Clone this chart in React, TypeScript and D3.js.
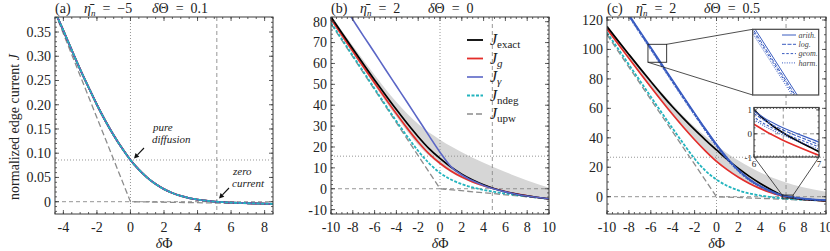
import React from "react";
import * as d3 from "d3";

const FONT = "Liberation Serif, Times New Roman, Times, serif";
const FRAME = "#3a3a3a";
const RED = "#e42d2a";
const BLUE_B = "#5b66c6";
const BLUE_C = "#3a5cc0";
const CYAN = "#22b4be";
const GREY = "#8c8c8c";
const BAND = "#d6d6d6";

// panel (a): eta_n = -5, dTheta = 0.1 (all approximations coincide)
const aPhi = [-4.5, -4, -3.5, -3, -2.5, -2, -1.5, -1, -0.5, 0, 0.5, 1, 1.5, 2, 2.5, 3, 3.5, 4, 4.5, 5, 5.5, 6, 7, 8, 8.5];
const aJ = [0.392, 0.353, 0.3125, 0.273, 0.236, 0.2, 0.167, 0.137, 0.11, 0.086, 0.0661, 0.0496, 0.0363, 0.0259, 0.0179, 0.0119, 0.0075, 0.0043, 0.002, 0.0003, -0.001, -0.0019, -0.0032, -0.004, -0.0044];
const aUpwPhi = [-4.5, 0, 8.5];
const aUpwJ = [0.39, 0, -0.0045];
const aRefX = [0, 5.15]; // pure diffusion (dotted), zero current (dashed)
const aRefY = [0.086, 0];

// panel (b): eta_n = 2, dTheta = 0
const bPhi = [-10, -9, -8, -7, -6, -5, -4, -3, -2, -1, 0, 1, 2, 3, 4, 5, 6, 7, 8, 9, 10];
const bExact = [82.3, 74.6, 67.0, 59.5, 52.1, 44.9, 37.9, 31.2, 24.9, 19.2, 14.5, 10.4, 7.0, 4.2, 1.9, 0.0, -1.45, -2.55, -3.45, -4.2, -4.85];
const bG = [81.3, 73.5, 65.8, 58.2, 50.6, 43.2, 35.9, 28.9, 22.4, 16.7, 12.2, 8.5, 5.6, 3.3, 1.5, 0.0, -1.35, -2.5, -3.4, -4.2, -4.85];
const bGamma = [97.0, 89.0, 81.0, 73.0, 65.1, 57.1, 49.2, 41.3, 33.3, 25.3, 17.5, 10.6, 6.6, 3.8, 1.6, -0.1, -1.5, -2.6, -3.5, -4.2, -4.8];
const bNdeg = [79.5, 71.6, 63.7, 55.8, 47.9, 40.1, 32.4, 25.0, 18.1, 12.2, 7.6, 4.4, 2.2, 0.6, -0.6, -1.5, -2.3, -3.0, -3.7, -4.3, -4.9];
const bUpwPhi = [-10, 0, 10];
const bUpwJ = [79, 0, -4.8];
const bBandPhi = [-10, -8, -6, -4, -2, 0, 2, 4, 6, 8, 10];
const bBandHi = [83, 68.5, 54.5, 41.5, 31, 23.5, 17.5, 12.5, 8, 4, 0.5];
const bBandLo = [80.5, 64.8, 49.5, 34.5, 21, 11.5, 5, 1, -1.6, -3.5, -5.2];
const bRefX = [0, 4.8];
const bRefY = [15.6, 0];

// panel (c): eta_n = 2, dTheta = 0.5
const cPhi = [-10, -9, -8, -7, -6, -5, -4, -3, -2, -1, 0, 1, 2, 3, 4, 5, 6, 7, 8, 9, 10];
const cExact = [115.5, 106, 96.6, 87.3, 78.2, 69.3, 60.9, 53.0, 45.5, 38.5, 31.8, 25.2, 19.2, 13.8, 9.0, 4.8, 1.0, -0.75, -1.8, -2.4, -2.85];
const cG = [113.9, 103.9, 94.0, 84.2, 74.5, 65.0, 55.8, 47.0, 38.7, 31.0, 24.0, 18.2, 13.2, 9.0, 5.5, 2.7, 0.4, -0.9, -1.8, -2.4, -2.9];
const cNdeg = [111.5, 100.6, 89.7, 78.8, 67.9, 57.0, 46.3, 35.8, 25.8, 17.6, 11.6, 7.3, 4.3, 2.2, 0.8, -0.3, -1.1, -1.7, -2.1, -2.4, -2.7];
const cUpwPhi = [-10, 0, 10];
const cUpwJ = [110, 0, -2.8];
const cGammaPhi = [-9, -8, -7, -6, -5, -4, -3, -2, -1, 0, 1, 2, 3, 4, 5, 6, 7, 8, 9, 10];
const cGammaArith = [134.8, 123.7, 112.5, 101.3, 90.1, 78.9, 67.8, 56.8, 46.0, 35.6, 26.2, 18.3, 12.0, 7.3, 3.7, 0.95, -0.35, -1.3, -1.9, -2.3];
const cGammaLog = [134.2, 123.1, 111.9, 100.7, 89.5, 78.3, 67.2, 56.2, 45.5, 35.1, 25.8, 17.9, 11.7, 7.05, 3.5, 0.85, -0.45, -1.4, -2.0, -2.4];
const cGammaGeom = [133.8, 122.7, 111.5, 100.3, 89.1, 77.9, 66.8, 55.9, 45.1, 34.7, 25.4, 17.6, 11.4, 6.8, 3.3, 0.7, -0.55, -1.5, -2.1, -2.5];
const cGammaHarm = [133.3, 122.2, 111.0, 99.8, 88.6, 77.4, 66.3, 55.4, 44.7, 34.3, 25.0, 17.3, 11.1, 6.6, 3.1, 0.6, -0.65, -1.6, -2.2, -2.6];
const cBandPhi = [-10, -8, -6, -4, -2, 0, 2, 4, 6, 8, 10];
const cBandHi = [116.5, 97.5, 79.5, 62.5, 47.5, 35, 24.5, 16.5, 10.5, 6.3, 3.4];
const cBandLo = [113.5, 93.5, 74, 55.3, 38.5, 23.5, 12.8, 5.2, 0.2, -1.9, -3.0];
const cRefX = [0, 6.35];
const cRefY = [26.8, 0];
const cZoom1Phi = [-6.26, -4.55];
const cZoom1J = [91.3, 103.5];
const cZoom2Phi = [6, 7];
const cZoom2J = [-0.97, 1.1];
const cZoom2XTicks = [6, 7];
const cZoom2YTicks = [-1, 0, 1];

const legendLabels = [
  { main: "J", sub: "exact", subItalic: false },
  { main: "J", sub: "g", subItalic: true },
  { main: "J", sub: "γ", subItalic: true },
  { main: "J", sub: "ndeg", subItalic: false },
  { main: "J", sub: "upw", subItalic: false },
];
const gammaLabels = ["arith.", "log.", "geom.", "harm."];

type Scale = d3.ScaleLinear<number, number>;
type Box = { l: number; r: number; t: number; b: number };

const serif = { fontFamily: FONT };

function path(x: Scale, y: Scale, xs: number[], ys: number[], curve: d3.CurveFactory = d3.curveMonotoneX) {
  return d3.line<number>().x((_, i) => x(xs[i])).y((d) => y(d)).curve(curve)(ys) || "";
}

function Curve(props: { x: Scale; y: Scale; xs: number[]; ys: number[]; color: string; w?: number; dash?: string; linear?: boolean }) {
  const { x, y, xs, ys, color, w = 1.6, dash, linear } = props;
  return (
    <path
      d={path(x, y, xs, ys, linear ? d3.curveLinear : d3.curveMonotoneX)}
      fill="none"
      stroke={color}
      strokeWidth={w}
      strokeDasharray={dash}
    />
  );
}

function minorRange(d: number[], step: number) {
  const start = Math.ceil(d[0] / step - 1e-6) * step;
  return d3.range(start, d[1] + 1e-9, step);
}

function FrameTicks(props: { x: Scale; y: Scale; box: Box; xMajor: number[]; xMinor: number; yMajor: number[]; yMinor: number; maj?: number; min?: number }) {
  const { x, y, box, xMajor, xMinor, yMajor, yMinor, maj = 4, min = 2 } = props;
  const xm = minorRange(x.domain(), xMinor);
  const ym = minorRange(y.domain(), yMinor);
  const segs: string[] = [];
  xm.forEach((v) => {
    const px = x(v);
    segs.push(`M${px},${box.b}v${-min}M${px},${box.t}v${min}`);
  });
  xMajor.forEach((v) => {
    const px = x(v);
    segs.push(`M${px},${box.b}v${-maj}M${px},${box.t}v${maj}`);
  });
  ym.forEach((v) => {
    const py = y(v);
    segs.push(`M${box.l},${py}h${min}M${box.r},${py}h${-min}`);
  });
  yMajor.forEach((v) => {
    const py = y(v);
    segs.push(`M${box.l},${py}h${maj}M${box.r},${py}h${-maj}`);
  });
  return <path d={segs.join("")} stroke={FRAME} strokeWidth={0.8} fill="none" />;
}

type PanelProps = {
  id: string;
  box: Box;
  xd: number[];
  yd: number[];
  xTicks: number[];
  xMinor: number;
  yTicks: number[];
  yMinor: number;
  yFmt: (v: number) => string;
  refX: number[];
  refY: number[];
  title: [string, string, string];
  back?: (x: Scale, y: Scale) => React.ReactNode;
  front?: (x: Scale, y: Scale) => React.ReactNode;
};

function Panel(p: PanelProps) {
  const { box } = p;
  const x = d3.scaleLinear().domain(p.xd).range([box.l, box.r]);
  const y = d3.scaleLinear().domain(p.yd).range([box.b, box.t]);
  const dashed = "4,3";
  const dotted = "1,2";
  return (
    <g>
      <defs>
        <clipPath id={p.id}>
          <rect x={box.l} y={box.t} width={box.r - box.l} height={box.b - box.t} />
        </clipPath>
      </defs>
      <g clipPath={`url(#${p.id})`}>
        {p.back && p.back(x, y)}
        <line x1={x(p.refX[0])} x2={x(p.refX[0])} y1={box.t} y2={box.b} stroke="#8a8a8a" strokeWidth={0.9} strokeDasharray={dotted} />
        <line x1={x(p.refX[1])} x2={x(p.refX[1])} y1={box.t} y2={box.b} stroke="#8a8a8a" strokeWidth={0.9} strokeDasharray={dashed} />
        <line x1={box.l} x2={box.r} y1={y(p.refY[0])} y2={y(p.refY[0])} stroke="#8a8a8a" strokeWidth={0.9} strokeDasharray={dotted} />
        <line x1={box.l} x2={box.r} y1={y(p.refY[1])} y2={y(p.refY[1])} stroke="#8a8a8a" strokeWidth={0.9} strokeDasharray={dashed} />
        {p.front && p.front(x, y)}
      </g>
      <rect x={box.l} y={box.t} width={box.r - box.l} height={box.b - box.t} fill="none" stroke={FRAME} strokeWidth={1} />
      <FrameTicks x={x} y={y} box={box} xMajor={p.xTicks} xMinor={p.xMinor} yMajor={p.yTicks} yMinor={p.yMinor} />
      <g style={serif} fontSize={14} fill="#222">
        {p.xTicks.map((v) => (
          <text key={"x" + v} x={x(v)} y={box.b + 17.5} textAnchor="middle">
            {String(v)}
          </text>
        ))}
        {p.yTicks.map((v) => (
          <text key={"y" + v} x={box.l - 4} y={y(v)} dy="0.35em" textAnchor="end">
            {p.yFmt(v)}
          </text>
        ))}
        <text x={(box.l + box.r) / 2} y={248} textAnchor="middle">
          <tspan fontStyle="italic">δ</tspan>Φ
        </text>
        <text x={box.l} y={13}>{p.title[0]}</text>
        <text x={box.l + 29} y={13} xmlSpace="preserve">
          <tspan fontStyle="italic">η̄</tspan>
          <tspan fontStyle="italic" fontSize={9} dy={3}>n</tspan>
          <tspan dy={-3}>{"  =  " + p.title[1]}</tspan>
        </text>
        <text x={box.l + 97} y={13} xmlSpace="preserve">
          <tspan fontStyle="italic">δ</tspan>
          <tspan>{"Θ  =  " + p.title[2]}</tspan>
        </text>
      </g>
    </g>
  );
}

function Arrow({ x1, y1, x2, y2 }: { x1: number; y1: number; x2: number; y2: number }) {
  const a = Math.atan2(y2 - y1, x2 - x1);
  const L = 5;
  const w = 2.6;
  const bx = x2 - L * Math.cos(a);
  const by = y2 - L * Math.sin(a);
  const pts = [
    [x2, y2],
    [bx + w * Math.sin(a), by - w * Math.cos(a)],
    [bx - w * Math.sin(a), by + w * Math.cos(a)],
  ];
  return (
    <g>
      <line x1={x1} y1={y1} x2={bx} y2={by} stroke="#111" strokeWidth={1.1} />
      <polygon points={pts.map((q) => q.join(",")).join(" ")} fill="#111" />
    </g>
  );
}

export default function App() {
  const boxA = { l: 55, r: 273, t: 17, b: 214 };
  const boxB = { l: 331, r: 549, t: 17, b: 214 };
  const boxC = { l: 607, r: 826, t: 17, b: 214 };
  const gammaSets = [cGammaArith, cGammaLog, cGammaGeom, cGammaHarm];
  const gammaDash = [undefined, "4,1.5", "2.5,1.8", "1,1.4"];

  const ins1: Box = { l: 752.7, r: 818.7, t: 29.3, b: 95 };
  const ins2: Box = { l: 754, r: 819, t: 107.5, b: 157 };

  return (
    <svg width={830} height={251} style={{ position: "absolute", left: 0, top: 0, background: "#fff" }}>
      <text transform="translate(19,127) rotate(-90)" textAnchor="middle" style={serif} fontSize={14} fill="#222">
        normalized edge current <tspan fontStyle="italic">J</tspan>
      </text>

      <Panel
        id="clipA"
        box={boxA}
        xd={[-4.5, 8.5]}
        yd={[-0.0254, 0.381]}
        xTicks={[-4, -2, 0, 2, 4, 6, 8]}
        xMinor={0.5}
        yTicks={[0, 0.05, 0.1, 0.15, 0.2, 0.25, 0.3, 0.35]}
        yMinor={0.01}
        yFmt={(v) => (v === 0 ? "0" : d3.format(".2f")(v))}
        refX={aRefX}
        refY={aRefY}
        title={["(a)", "−5", "0.1"]}
        front={(x, y) => (
          <g>
            <Curve x={x} y={y} xs={aUpwPhi} ys={aUpwJ} color={GREY} w={1.3} dash="6,3" linear />
            <Curve x={x} y={y} xs={aPhi} ys={aJ} color="#000" w={1.8} />
            <Curve x={x} y={y} xs={aPhi} ys={aJ} color={RED} w={1.8} />
            <Curve x={x} y={y} xs={aPhi} ys={aJ} color={BLUE_B} w={1.8} />
            <Curve x={x} y={y} xs={aPhi} ys={aJ} color={CYAN} w={1.8} dash="3,1.5" />
          </g>
        )}
      />

      <Panel
        id="clipB"
        box={boxB}
        xd={[-10, 10]}
        yd={[-12.1, 82.25]}
        xTicks={[-10, -8, -6, -4, -2, 0, 2, 4, 6, 8, 10]}
        xMinor={0.5}
        yTicks={[-10, 0, 10, 20, 30, 40, 50, 60, 70, 80]}
        yMinor={2}
        yFmt={(v) => String(v)}
        refX={bRefX}
        refY={bRefY}
        title={["(b)", "2", "0"]}
        back={(x, y) => (
          <path
            d={
              d3
                .area<number>()
                .x((_, i) => x(bBandPhi[i]))
                .y0((_, i) => y(bBandLo[i]))
                .y1((d) => y(d))
                .curve(d3.curveMonotoneX)(bBandHi) || ""
            }
            fill={BAND}
          />
        )}
        front={(x, y) => (
          <g>
            <Curve x={x} y={y} xs={bUpwPhi} ys={bUpwJ} color={GREY} w={1.3} dash="6,3" linear />
            <Curve x={x} y={y} xs={bPhi} ys={bNdeg} color={CYAN} w={1.8} dash="3,1.5" />
            <Curve x={x} y={y} xs={bPhi} ys={bG} color={RED} w={1.7} />
            <Curve x={x} y={y} xs={bPhi} ys={bExact} color="#000" w={1.7} />
            <Curve x={x} y={y} xs={bPhi} ys={bGamma} color={BLUE_B} w={1.6} />
          </g>
        )}
      />

      {/* legend of panel (b) */}
      <g style={serif} fill="#222">
        {legendLabels.map((d, i) => {
          const ly = 40 + i * 18.5;
          const styles = [
            { c: "#000", dash: undefined, w: 1.8 },
            { c: RED, dash: undefined, w: 1.8 },
            { c: BLUE_B, dash: undefined, w: 1.6 },
            { c: CYAN, dash: "3,1.5", w: 1.8 },
            { c: GREY, dash: "6,3", w: 1.3 },
          ][i];
          return (
            <g key={i}>
              <line x1={467} x2={483} y1={ly} y2={ly} stroke={styles.c} strokeWidth={styles.w} strokeDasharray={styles.dash} />
              <text x={490} y={ly + 5} fontSize={16}>
                <tspan fontStyle="italic">{d.main}</tspan>
                <tspan fontSize={11} dy={3} fontStyle={d.subItalic ? "italic" : "normal"}>
                  {d.sub}
                </tspan>
              </text>
            </g>
          );
        })}
      </g>

      <Panel
        id="clipC"
        box={boxC}
        xd={[-10, 10]}
        yd={[-11.75, 122.04]}
        xTicks={[-10, -8, -6, -4, -2, 0, 2, 4, 6, 8, 10]}
        xMinor={0.5}
        yTicks={[0, 20, 40, 60, 80, 100, 120]}
        yMinor={5}
        yFmt={(v) => String(v)}
        refX={cRefX}
        refY={cRefY}
        title={["(c)", "2", "0.5"]}
        back={(x, y) => (
          <path
            d={
              d3
                .area<number>()
                .x((_, i) => x(cBandPhi[i]))
                .y0((_, i) => y(cBandLo[i]))
                .y1((d) => y(d))
                .curve(d3.curveMonotoneX)(cBandHi) || ""
            }
            fill={BAND}
          />
        )}
        front={(x, y) => (
          <g>
            <Curve x={x} y={y} xs={cUpwPhi} ys={cUpwJ} color={GREY} w={1.3} dash="6,3" linear />
            <Curve x={x} y={y} xs={cPhi} ys={cNdeg} color={CYAN} w={1.8} dash="3,1.5" />
            <Curve x={x} y={y} xs={cPhi} ys={cG} color={RED} w={1.7} />
            <Curve x={x} y={y} xs={cPhi} ys={cExact} color="#000" w={1.7} />
            {gammaSets.map((s, i) => (
              <Curve key={i} x={x} y={y} xs={cGammaPhi} ys={s} color={BLUE_C} w={1.5} dash={gammaDash[i]} />
            ))}
          </g>
        )}
      />

      {/* annotations in (a) */}
      <g style={serif} fontSize={11} fontStyle="italic" fill="#222">
        <text x={153} y={131}>pure</text>
        <text x={152} y={142.5}>diffusion</text>
        <text x={233} y={175}>zero</text>
        <text x={232} y={187}>current</text>
      </g>
      <Arrow x1={144} y1={148} x2={134} y2={158.5} />
      <Arrow x1={229} y1={188} x2={219} y2={198.5} />

      {/* insets of (c) */}
      {(() => {
        const x = d3.scaleLinear().domain([-10, 10]).range([boxC.l, boxC.r]);
        const y = d3.scaleLinear().domain([-11.75, 122.04]).range([boxC.b, boxC.t]);
        const r1 = { l: x(cZoom1Phi[0]), r: x(cZoom1Phi[1]), t: y(cZoom1J[1]), b: y(cZoom1J[0]) };
        const r2 = { l: x(cZoom2Phi[0]), r: x(cZoom2Phi[1]), t: y(cZoom2J[1]), b: y(cZoom2J[0]) };
        const x1 = d3.scaleLinear().domain(cZoom1Phi).range([ins1.l, ins1.r]);
        const y1 = d3.scaleLinear().domain(cZoom1J).range([ins1.b, ins1.t]);
        const x2 = d3.scaleLinear().domain(cZoom2Phi).range([ins2.l, ins2.r]);
        const y2 = d3.scaleLinear().domain(cZoom2J).range([ins2.b, ins2.t]);
        return (
          <g>
            <defs>
              <clipPath id="ins1">
                <rect x={ins1.l} y={ins1.t} width={ins1.r - ins1.l} height={ins1.b - ins1.t} />
              </clipPath>
              <clipPath id="ins2">
                <rect x={ins2.l} y={ins2.t} width={ins2.r - ins2.l} height={ins2.b - ins2.t} />
              </clipPath>
            </defs>
            <rect x={r1.l} y={r1.t} width={r1.r - r1.l} height={r1.b - r1.t} fill="none" stroke="#222" strokeWidth={0.9} />
            <rect x={r2.l} y={r2.t} width={r2.r - r2.l} height={r2.b - r2.t} fill="none" stroke="#222" strokeWidth={0.9} />
            <line x1={r1.r} y1={r1.t} x2={ins1.l} y2={ins1.t} stroke="#222" strokeWidth={0.8} />
            <line x1={r1.l} y1={r1.b} x2={ins1.l} y2={ins1.b} stroke="#222" strokeWidth={0.8} />
            <line x1={r2.l} y1={r2.t} x2={ins2.l} y2={ins2.b} stroke="#222" strokeWidth={0.8} />
            <line x1={r2.r} y1={r2.t} x2={ins2.r} y2={ins2.b} stroke="#222" strokeWidth={0.8} />

            <rect x={ins1.l} y={ins1.t} width={ins1.r - ins1.l} height={ins1.b - ins1.t} fill="#fff" />
            <g clipPath="url(#ins1)">
              {gammaSets.map((s, i) => (
                <Curve key={i} x={x1} y={y1} xs={cGammaPhi} ys={s} color={BLUE_C} w={1} dash={gammaDash[i]} />
              ))}
            </g>
            <rect x={ins1.l} y={ins1.t} width={ins1.r - ins1.l} height={ins1.b - ins1.t} fill="none" stroke="#444" strokeWidth={1.2} />
            <g style={serif} fontSize={8} fontStyle="italic" fill="#444">
              {gammaLabels.map((g, i) => (
                <g key={g}>
                  <line x1={782} x2={796} y1={35 + i * 9.3} y2={35 + i * 9.3} stroke={BLUE_C} strokeWidth={1} strokeDasharray={gammaDash[i]} />
                  <text x={798.5} y={37.8 + i * 9.3}>{g}</text>
                </g>
              ))}
            </g>

            <rect x={ins2.l} y={ins2.t} width={ins2.r - ins2.l} height={ins2.b - ins2.t} fill="#fff" />
            <g clipPath="url(#ins2)">
              <line x1={x2(6.45)} x2={x2(6.45)} y1={ins2.t} y2={ins2.b} stroke="#8a8a8a" strokeWidth={0.9} strokeDasharray="4,3" />
              <line x1={ins2.l} x2={ins2.r} y1={y2(0)} y2={y2(0)} stroke="#8a8a8a" strokeWidth={0.9} strokeDasharray="4,3" />
              <Curve x={x2} y={y2} xs={cPhi} ys={cG} color={RED} w={1.6} />
              <Curve x={x2} y={y2} xs={cPhi} ys={cExact} color="#000" w={1.6} />
              {gammaSets.map((s, i) => (
                <Curve key={i} x={x2} y={y2} xs={cGammaPhi} ys={s} color={BLUE_C} w={1.1} dash={gammaDash[i]} />
              ))}
            </g>
            <rect x={ins2.l} y={ins2.t} width={ins2.r - ins2.l} height={ins2.b - ins2.t} fill="none" stroke="#444" strokeWidth={1.2} />
            <FrameTicks x={x2} y={y2} box={ins2} xMajor={cZoom2XTicks} xMinor={0.05} yMajor={cZoom2YTicks} yMinor={0.25} maj={3} min={1.5} />
            <g style={serif} fontSize={9} fill="#222">
              {cZoom2XTicks.map((v) => (
                <text key={v} x={x2(v)} y={ins2.b + 10} textAnchor="middle">{String(v)}</text>
              ))}
              {cZoom2YTicks.map((v) => (
                <text key={v} x={ins2.l - 2} y={y2(v)} dy="0.35em" textAnchor="end">{String(v)}</text>
              ))}
            </g>
          </g>
        );
      })()}
    </svg>
  );
}
